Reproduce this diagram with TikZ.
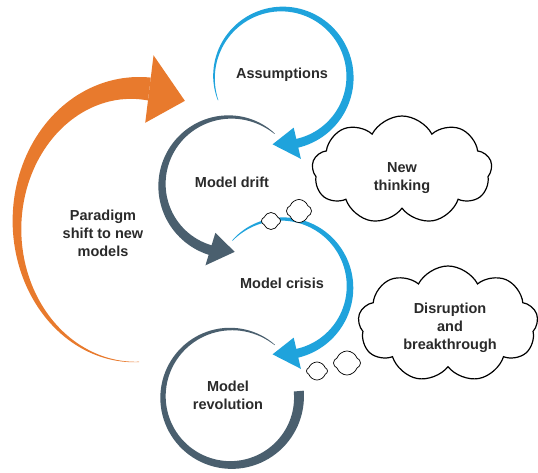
\documentclass[tikz,border=0pt]{standalone}
\usepackage{fontspec}
\setmainfont{Liberation Sans}
\usetikzlibrary{%
  shapes.symbols,% wg. cloud
  positioning%
}
\definecolor{cycleblue}{HTML}{1FA3DC}
\definecolor{cycledark}{HTML}{4A5F6E}
\definecolor{shiftorange}{HTML}{E87A2D}
\definecolor{labelgray}{HTML}{2A2A2A}

\newcommand{\taperexp}{0.75}
% tapered arc: colour, cx, cy, rx, ry, from, to, width at start, width at end
\newcommand{\taperarc}[9]{%
  \fill[#1] plot[domain=#6:#7,samples=90]
    ({#2+(#4+(#8+(#9-#8)*(abs(\x-#6)/abs(#7-#6)+0.001)^\taperexp)/2)*cos(\x)},
     {#3+(#5+(#8+(#9-#8)*(abs(\x-#6)/abs(#7-#6)+0.001)^\taperexp)/2)*sin(\x)})
    -- plot[domain=#7:#6,samples=90]
    ({#2+(#4-(#8+(#9-#8)*(abs(\x-#6)/abs(#7-#6)+0.001)^\taperexp)/2)*cos(\x)},
     {#3+(#5-(#8+(#9-#8)*(abs(\x-#6)/abs(#7-#6)+0.001)^\taperexp)/2)*sin(\x)}) -- cycle;}
% arrow head on the arc: colour, cx, cy, rx, ry, base angle, tip angle, half width
\newcommand{\archead}[8]{%
  \fill[#1] ({#2+(#4+#8)*cos(#6)},{#3+(#5+#8)*sin(#6)})
    -- ({#2+#4*cos(#7)},{#3+#5*sin(#7)})
    -- ({#2+(#4-#8)*cos(#6)},{#3+(#5-#8)*sin(#6)}) -- cycle;}

\begin{document}
\begin{tikzpicture}[x=1pt,y=-1pt]
 \begin{scope}[lbl/.style={font=\bfseries\fontsize{14.5}{18}\selectfont,text=labelgray,align=center,inner sep=0pt},
   thought/.style={cloud,cloud puffs=9,cloud puff arc=125,cloud ignores aspect,draw=black,fill=white,line width=1.2pt,inner sep=0pt},
   puff/.style={cloud,cloud puffs=4,cloud puff arc=140,cloud ignores aspect,draw=black,fill=white,line width=0.7pt,inner sep=0pt}]
   \useasboundingbox (0,0) rectangle (538,472);

   %Paradigmenwechsel
   \renewcommand{\taperexp}{1.4}
   \taperarc{shiftorange}{135}{225}{118}{137}{88}{277}{0.4}{23}
   \archead{shiftorange}{135}{225}{118}{137}{277}{295}{34}
   \renewcommand{\taperexp}{0.75}

   %Zyklus
   \taperarc{cycleblue}{282}{77}{68}{68}{160}{438}{0.4}{9}
   \archead{cycleblue}{282}{77}{68}{68}{437}{98}{16}

   \taperarc{cycledark}{230}{185}{68}{68}{311}{106}{0.4}{10}
   \archead{cycledark}{230}{185}{67}{67}{107}{86}{17}

   \taperarc{cycleblue}{282}{287}{68}{68}{223}{438}{0.4}{9}
   \archead{cycleblue}{282}{287}{68}{68}{437}{98}{16}

   \taperarc{cycledark}{231}{397}{68}{68}{310}{-5}{0.4}{10}

   \coordinate (assume) at (282,75);
   \coordinate (drift) at (232,182);
   \coordinate (crisis) at (282,283);
   \coordinate (revolution) at (228,395);
   \coordinate (shift) at (103,233);

   \node[lbl] (assumelbl) at (assume) {Assumptions};
   \node[lbl] (driftlbl) at (drift) {Model drift};
   \node[lbl] (crisislbl) at (crisis) {Model crisis};
   \node[lbl] (revolutionlbl) at (revolution) {Model\\revolution};
   \node[lbl] (shiftlbl) at (shift) {Paradigm\\shift to new\\models};

   %Denkblasen
   \node[thought,minimum width=180pt,minimum height=108pt,shape border rotate=10] (newthink) at (402,170) {};
   \node[lbl] at (402,178) {New\\thinking};
   \node[puff,minimum width=25pt,minimum height=23pt] (puffa) at (299,211) {};
   \node[puff,minimum width=19pt,minimum height=17pt] (puffb) at (271,221) {};

   \node[thought,minimum width=180pt,minimum height=116pt,shape border rotate=15] (disrupt) at (448,324) {};
   \node[lbl] at (450,328) {Disruption\\and\\breakthrough};
   \node[puff,minimum width=27pt,minimum height=24pt] (puffc) at (347,363) {};
   \node[puff,minimum width=21pt,minimum height=18pt] (puffd) at (317,371) {};
 \end{scope}
\end{tikzpicture}
\end{document}
